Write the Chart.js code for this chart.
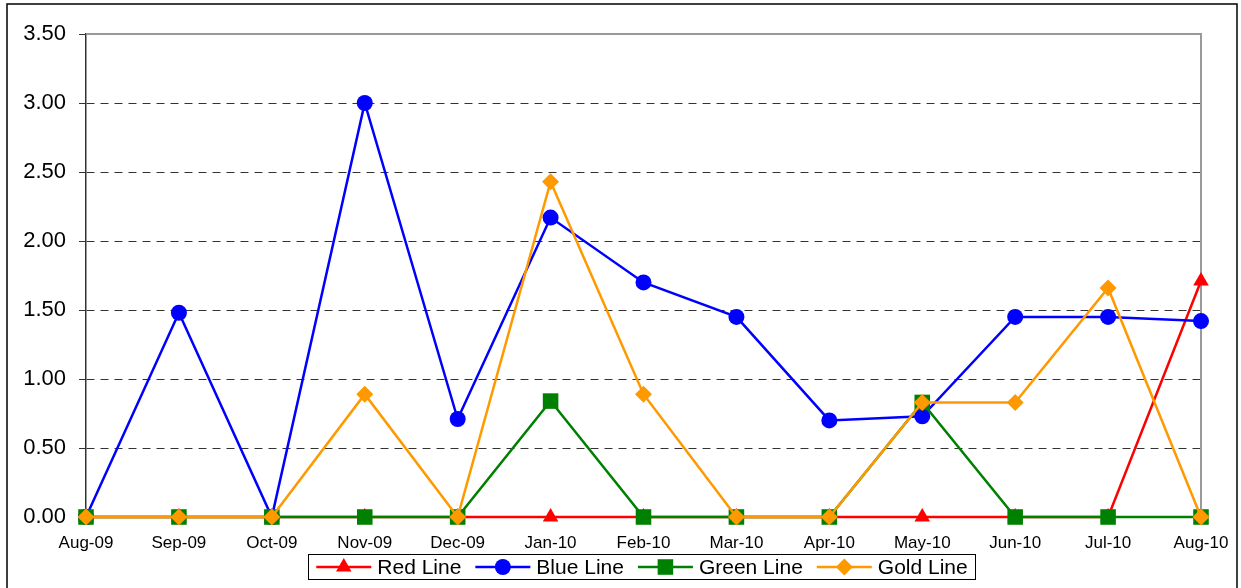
<!DOCTYPE html>
<html>
<head>
<meta charset="utf-8">
<script src="https://cdn.jsdelivr.net/npm/chart.js@4.4.1/dist/chart.umd.min.js"></script>
<style>
  html, body { margin: 0; padding: 0; background: #ffffff; }
  #wrap { width: 1241px; height: 588px; position: relative; }
</style>
</head>
<body>
<div id="wrap"><canvas id="c" width="1241" height="588"></canvas></div>
<script>
const categories = ['Aug-09','Sep-09','Oct-09','Nov-09','Dec-09','Jan-10','Feb-10','Mar-10','Apr-10','May-10','Jun-10','Jul-10','Aug-10'];
const redLine   = [0, 0, 0, 0, 0, 0, 0, 0, 0, 0, 0, 0, 1.71];
const blueLine  = [0, 1.48, 0, 3.00, 0.71, 2.17, 1.70, 1.45, 0.70, 0.73, 1.45, 1.45, 1.42];
const greenLine = [0, 0, 0, 0, 0, 0.84, 0, 0, 0, 0.83, 0, 0, 0];
const goldLine  = [0, 0, 0, 0.89, 0, 2.43, 0.89, 0, 0, 0.83, 0.83, 1.66, 0];
const yTicks = [0, 0.5, 1.0, 1.5, 2.0, 2.5, 3.0, 3.5];

const FONT = '"Liberation Sans", Arial, sans-serif';

function drawMarker(ctx, style, x, y, r, color) {
  ctx.save();
  ctx.fillStyle = color;
  ctx.beginPath();
  if (style === 'triangle') {
    ctx.moveTo(x, y - r);
    ctx.lineTo(x + r * 0.866, y + r * 0.5);
    ctx.lineTo(x - r * 0.866, y + r * 0.5);
    ctx.closePath();
  } else if (style === 'circle') {
    ctx.arc(x, y, r, 0, Math.PI * 2);
  } else if (style === 'rect') {
    const s = r * Math.SQRT1_2;
    ctx.rect(x - s, y - s, 2 * s, 2 * s);
  } else if (style === 'rectRot') {
    ctx.moveTo(x - r, y); ctx.lineTo(x, y - r); ctx.lineTo(x + r, y); ctx.lineTo(x, y + r);
    ctx.closePath();
  }
  ctx.fill();
  ctx.restore();
}

const framePlugin = {
  id: 'frame',
  beforeDraw(chart) {
    const ctx = chart.ctx;
    ctx.save();
    ctx.fillStyle = '#ffffff';
    ctx.fillRect(0, 0, chart.width, chart.height);
    ctx.strokeStyle = '#000000';
    ctx.lineWidth = 1.5;
    ctx.strokeRect(7, 4, 1230, 640);
    ctx.restore();
  },
  beforeDatasetsDraw(chart) {
    const a = chart.chartArea, ctx = chart.ctx;
    ctx.save();
    ctx.strokeStyle = '#999999';
    ctx.lineWidth = 2;
    ctx.beginPath();
    ctx.moveTo(a.left, a.top);
    ctx.lineTo(a.right, a.top);
    ctx.lineTo(a.right, a.bottom);
    ctx.stroke();
    ctx.restore();
  },
  afterDraw(chart) {
    const ctx = chart.ctx;
    const ds = chart.data.datasets;
    ctx.save();
    ctx.font = '21px ' + FONT;
    const pad = 8, sample = 55, gap = 6, itemGap = 14;
    const widths = ds.map(d => ctx.measureText(d.label).width);
    let total = pad * 2;
    widths.forEach((w, i) => { total += sample + gap + w + (i < ds.length - 1 ? itemGap : 0); });
    const cx = 642;
    const left = cx - total / 2, top = 554, h = 25;
    ctx.fillStyle = '#ffffff';
    ctx.fillRect(left, top, total, h);
    ctx.strokeStyle = '#000000';
    ctx.lineWidth = 1;
    ctx.strokeRect(Math.round(left) + 0.5, top + 0.5, Math.round(total), h);
    let x = left + pad;
    const yc = top + h / 2 + 0.5;
    ds.forEach((d, i) => {
      ctx.strokeStyle = d.borderColor;
      ctx.lineWidth = 2.5;
      ctx.beginPath();
      ctx.moveTo(x, yc); ctx.lineTo(x + sample, yc);
      ctx.stroke();
      drawMarker(ctx, d.pointStyle, x + sample / 2, yc, d.pointRadius, d.backgroundColor);
      ctx.fillStyle = '#000000';
      ctx.textBaseline = 'middle';
      ctx.textAlign = 'left';
      ctx.fillText(d.label, x + sample + gap, yc + 1);
      x += sample + gap + widths[i] + itemGap;
    });
    ctx.restore();
  }
};

const mk = (label, data, color, style, radius, order) => ({
  label, data, order,
  borderColor: color, backgroundColor: color,
  pointBackgroundColor: color, pointBorderColor: color,
  pointStyle: style, pointRadius: radius, pointHoverRadius: radius,
  pointBorderWidth: 0,
  borderWidth: 2.5, tension: 0, fill: false,
  clip: false
});

new Chart(document.getElementById('c'), {
  type: 'line',
  data: {
    labels: categories,
    datasets: [
      mk('Red Line', redLine, '#FF0000', 'triangle', 9, 4),
      mk('Blue Line', blueLine, '#0000FF', 'circle', 8, 3),
      mk('Green Line', greenLine, '#008000', 'rect', 11, 2),
      mk('Gold Line', goldLine, '#FF9900', 'rectRot', 8.5, 1)
    ]
  },
  options: {
    responsive: false,
    animation: false,
    events: [],
    layout: { padding: { left: 0, top: 34, right: 40, bottom: 26 } },
    plugins: {
      legend: { display: false },
      tooltip: { enabled: false },
      title: { display: false }
    },
    scales: {
      x: {
        offset: false,
        grid: { display: false },
        border: { display: true, color: '#000000', width: 1 },
        ticks: { color: '#000000', font: { family: FONT, size: 17 }, padding: 8, maxRotation: 0, autoSkip: false },
        afterFit(s) { s.height = 45; }
      },
      y: {
        min: 0, max: 3.5,
        afterBuildTicks(s) { s.ticks = yTicks.map(v => ({ value: v })); },
        grid: {
          color: ctx => (ctx.tick && (ctx.tick.value === 0 || ctx.tick.value === 3.5)) ? 'rgba(0,0,0,0)' : '#333333',
          lineWidth: 1,
          drawTicks: true,
          tickLength: 7,
          tickColor: '#333333',
          tickWidth: 1
        },
        border: { display: true, color: '#333333', width: 1.5, dash: [8, 6] },
        ticks: {
          color: '#000000',
          font: { family: FONT, size: 22 },
          padding: 13,
          callback: v => Number(v).toFixed(2)
        },
        afterFit(s) { s.width = 86; }
      }
    }
  },
  plugins: [framePlugin]
});
</script>
</body>
</html>
